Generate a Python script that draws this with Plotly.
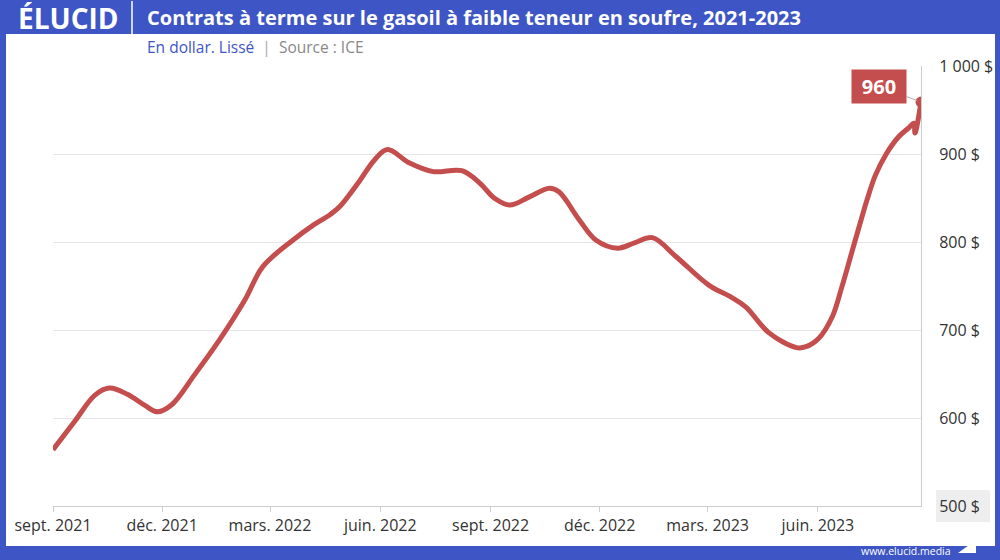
import plotly.graph_objects as go

dates = ["2021-09-01","2021-09-19","2021-10-06","2021-10-18","2021-11-02","2021-11-17","2021-11-27",
         "2021-12-09","2021-12-28","2022-01-18","2022-02-08","2022-02-23","2022-03-20","2022-04-07",
         "2022-04-20","2022-04-28","2022-05-15","2022-05-27","2022-06-07","2022-06-25","2022-07-15",
         "2022-08-08","2022-08-23","2022-09-04","2022-09-17","2022-10-03","2022-10-20","2022-10-28",
         "2022-11-14","2022-11-28","2022-12-16","2022-12-30","2023-01-14","2023-02-03","2023-03-02",
         "2023-03-21","2023-04-02","2023-04-21","2023-05-14","2023-05-22","2023-06-02","2023-06-13",
         "2023-06-21","2023-06-29","2023-07-07","2023-07-12","2023-07-19","2023-07-28","2023-08-07",
         "2023-08-16","2023-08-20","2023-08-21","2023-08-26"]
values = [564, 596, 626, 634, 627, 614, 607,
          615, 649, 689, 734, 772, 802, 820,
          831, 840, 870, 893, 905, 890, 880,
          881, 867, 850, 842, 851, 861, 857,
          825, 802, 793, 799, 805, 783, 751,
          737, 726, 697, 680, 681, 691, 715,
          749, 787, 825, 848, 876, 900, 919,
          930, 935, 924, 959]
last_label = "960"
tick_dates = ["2021-09-01","2021-12-01","2022-03-01","2022-06-01","2022-09-01","2022-12-01",
              "2023-03-01","2023-06-01"]
tick_text = ["sept. 2021","déc. 2021","mars. 2022","juin. 2022","sept. 2022","déc. 2022",
             "mars. 2023","juin. 2023"]
y_ticks = [500, 600, 700, 800, 900, 1000]
y_text = ["500 $", "600 $", "700 $", "800 $", "900 $", "1 000 $"]

BLUE = "#3d55c5"
RED = "#c44d4d"
FONT = "Open Sans"

L, R, T, B = 53, 921, 66, 506
W, H = R - L, B - T
def px(x): return (x - L) / W
def py(y): return (B - y) / H

fig = go.Figure()
fig.add_trace(go.Scatter(x=dates, y=values, mode="lines",
                         line=dict(color=RED, width=5, shape="spline", smoothing=1.0),
                         hoverinfo="skip"))
fig.add_trace(go.Scatter(x=[dates[-1]], y=[values[-1]], mode="markers",
                         marker=dict(color=RED, size=11), hoverinfo="skip"))

shapes = [
    dict(type="rect", xref="paper", yref="paper", x0=px(6), x1=px(995), y0=py(546), y1=py(34),
         fillcolor="white", line_width=0, layer="below"),
    dict(type="rect", xref="paper", yref="paper", x0=px(936), x1=px(990), y0=py(522), y1=py(490),
         fillcolor="#eeeeee", line_width=0, layer="below"),
    dict(type="line", xref="paper", yref="paper", x0=px(132), x1=px(132), y0=py(1), y1=py(34),
         line=dict(color="white", width=1.5)),
    dict(type="path", xref="paper", yref="paper",
         path=f"M {px(958)} {py(553)} L {px(976)} {py(553)} L {px(976)} {py(540)} Z",
         fillcolor="white", line_width=0),
]

annotations = [
    dict(xref="paper", yref="paper", x=px(16), y=py(18), xanchor="left", yanchor="middle",
         text="<b>ÉLUCID</b>", showarrow=False, font=dict(family=FONT, size=28, color="white")),
    dict(xref="paper", yref="paper", x=px(145), y=py(18), xanchor="left", yanchor="middle",
         text="<b>Contrats à terme sur le gasoil à faible teneur en soufre, 2021-2023</b>",
         showarrow=False, font=dict(family=FONT, size=20, color="white")),
    dict(xref="paper", yref="paper", x=px(145), y=py(47), xanchor="left", yanchor="middle",
         text=f"<span style='color:{BLUE}'>En dollar. Lissé</span>"
              "<span style='color:#aaaaaa'>  |  </span>"
              "<span style='color:#888888'>Source : ICE</span>",
         showarrow=False, font=dict(family=FONT, size=15.5)),
    dict(xref="paper", yref="paper", x=px(953), y=py(551), xanchor="right", yanchor="middle",
         text="www.elucid.media", showarrow=False, font=dict(family=FONT, size=10.5, color="white")),
    dict(x=dates[-1], y=values[-1], text=f"<b>{last_label}</b>", showarrow=True,
         ax=-42, ay=-16, arrowhead=0, arrowwidth=1, arrowcolor="#aaaaaa", standoff=4,
         width=44, height=23, bgcolor=RED, borderpad=5,
         font=dict(family=FONT, size=20, color="white")),
]

fig.update_layout(
    width=1000, height=560,
    margin=dict(l=L, r=1000 - R, t=T, b=560 - B),
    paper_bgcolor=BLUE, plot_bgcolor="white",
    showlegend=False,
    shapes=shapes, annotations=annotations,
    font=dict(family=FONT, color="#333333"),
    xaxis=dict(type="date", range=[dates[0], dates[-1]], tickvals=tick_dates, ticktext=tick_text,
               showgrid=False, showline=True, linecolor="#cccccc", linewidth=1,
               ticks="outside", ticklen=5, tickcolor="#cccccc", automargin=False,
               tickfont=dict(family=FONT, size=16, color="#333333"), zeroline=False, fixedrange=True),
    yaxis=dict(side="right", range=[500, 1000], tickvals=y_ticks, ticktext=y_text,
               showgrid=True, gridcolor="#e6e6e6", gridwidth=1, showline=True, mirror=False,
               linecolor="#cccccc", zeroline=False, ticks="outside", ticklen=14,
               tickcolor="rgba(0,0,0,0)", automargin=False,
               tickfont=dict(family=FONT, size=16, color="#333333"), fixedrange=True),
)

fig.write_html("out.html", config={"displayModeBar": False},
               post_script="document.body.style.margin='0';document.body.style.overflow='hidden';")
